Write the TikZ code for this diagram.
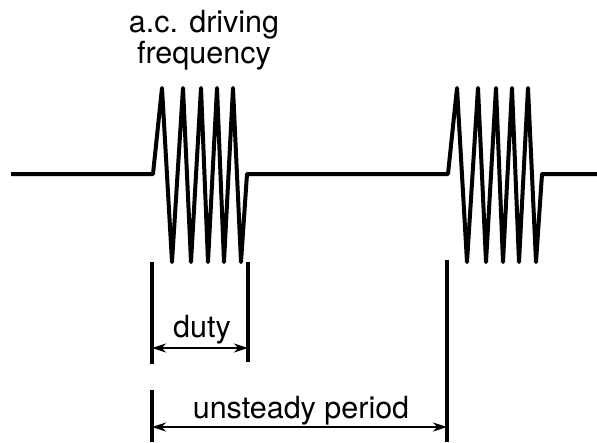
\documentclass[tikz,border=0pt]{standalone}
\usepackage{fontspec}
\setmainfont{TeX Gyre Heros}
\usetikzlibrary{arrows.meta}

\begin{document}
\begin{tikzpicture}[
      x=1pt, y=-1pt,
      every node/.style={font=\fontsize{30.5}{31}\selectfont, inner sep=0pt},
      signal/.style={
        line width=4pt,
        line join=round
      },
      bar/.style={line width=3.4pt},
      dimarr/.style={
        {Stealth[length=14pt,width=9pt]}-{Stealth[length=14pt,width=9pt]},
        line width=2.8pt
      }
    ]
        \useasboundingbox (0,0) rectangle (597,442);

        % Signal: baseline with two bursts
        \draw[signal] (11,174)
          foreach \o in {0,295} {
            -- (153+\o,174) -- (162+\o,88) -- (172+\o,262)
            -- (183+\o,88) -- (191+\o,262) -- (201+\o,88)
            -- (208+\o,262) -- (217+\o,88) -- (224+\o,262)
            -- (233+\o,88) -- (241+\o,262) -- (247+\o,174)
          } -- (597,174);

        % Labels
        \node[anchor=base, align=center] (freq) at (204,63)
          {a.c. driving\\frequency};
        \node[anchor=base] (duty) at (202,337) {duty};
        \node[anchor=base] (period) at (301,418) {unsteady period};

        % Marker bars
        \coordinate (dutyA) at (152,262);
        \coordinate (dutyB) at (152,364);
        \coordinate (dutyC) at (248,262);
        \coordinate (dutyD) at (248,362);
        \coordinate (perA) at (152,390);
        \coordinate (perB) at (152,442);
        \coordinate (perC) at (447,260);
        \coordinate (perD) at (447,442);
        \draw[bar] (dutyA) -- (dutyB);
        \draw[bar] (dutyC) -- (dutyD);
        \draw[bar] (perA) -- (perB);
        \draw[bar] (perC) -- (perD);

        % Dimension arrows
        \coordinate (dutyL) at (152,348);
        \coordinate (dutyR) at (248,348);
        \coordinate (perL) at (152,427);
        \coordinate (perR) at (447,427);
        \draw[dimarr] (dutyL) -- (dutyR);
        \draw[dimarr] (perL) -- (perR);

    \end{tikzpicture}
\end{document}
